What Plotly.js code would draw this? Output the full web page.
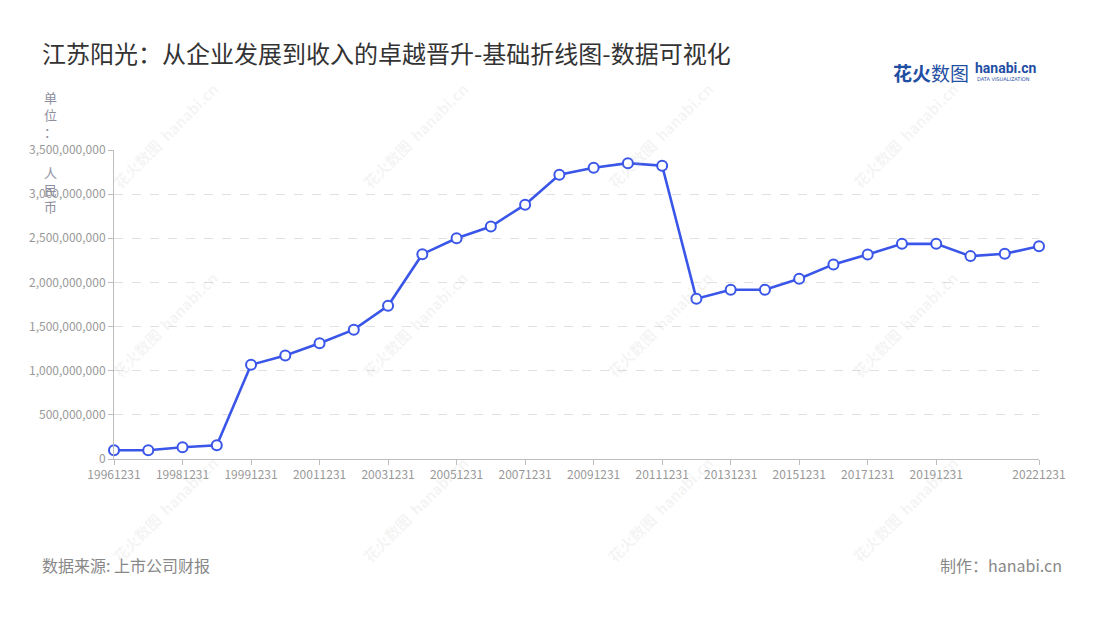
<!DOCTYPE html>
<html>
<head>
<meta charset="utf-8">
<script src="https://cdn.plot.ly/plotly-3.0.1.min.js"></script>
<style>
html,body{margin:0;padding:0;background:#fff;}
#chart{width:1100px;height:620px;}
</style>
</head>
<body>
<div id="chart"></div>
<script>
// Report dates (category axis)
const dates = [
  "19961231","19971231","19981231","19990630","19991231",
  "20001231","20011231","20021231","20031231","20041231",
  "20051231","20061231","20071231","20081231","20091231",
  "20101231","20111231","20121231","20131231","20141231",
  "20151231","20161231","20171231","20181231","20191231",
  "20201231","20211231","20221231"
];
// Revenue (RMB)
const revenue = [
  99000000, 99000000, 133000000, 156000000, 1067000000,
  1172000000, 1312000000, 1465000000, 1736000000, 2320000000,
  2501000000, 2633000000, 2881000000, 3220000000, 3299000000,
  3351000000, 3321000000, 1815000000, 1917000000, 1917000000,
  2041000000, 2204000000, 2317000000, 2437000000, 2437000000,
  2298000000, 2324000000, 2410000000
];
// Shown x tick labels
const shownTicks = [
  "19961231","19981231","19991231","20011231","20031231","20051231",
  "20071231","20091231","20111231","20131231","20151231","20171231",
  "20191231","20221231"
];
const yTicks = [0,500000000,1000000000,1500000000,2000000000,2500000000,3000000000,3500000000];

const FONT = '"Noto Sans CJK SC","Noto Sans",sans-serif';

const trace = {
  type: 'scatter',
  mode: 'lines+markers',
  x: dates,
  y: revenue,
  line: {color: '#3a56e8', width: 2.6},
  marker: {size: 10, color: '#ffffff', line: {color: '#3a56e8', width: 2}},
  cliponaxis: false,
  hoverinfo: 'x+y'
};

function px2paper(px, py) {
  const l = 114, r = 61, t = 150, b = 160.5;
  const w = 1100 - l - r, h = 620 - t - b;
  return {x: (px - l) / w, y: 1 - (py - t) / h};
}

// watermark annotations
const wmCols = [165, 415, 660, 905];
const wmRows = [135, 325, 510];
const wmAnn = [];
wmCols.forEach(cx => wmRows.forEach(cy => {
  const p = px2paper(cx, cy);
  wmAnn.push({
    xref: 'paper', yref: 'paper', x: p.x, y: p.y,
    xanchor: 'center', yanchor: 'middle',
    text: '<b>花火数图</b>  <b>hanabi.cn</b>',
    textangle: -45,
    showarrow: false,
    font: {family: FONT, size: 15, color: 'rgba(170,170,170,0.13)'}
  });
}));

const layout = {
  width: 1100,
  height: 620,
  paper_bgcolor: '#ffffff',
  plot_bgcolor: '#ffffff',
  margin: {l: 114, r: 61, t: 150, b: 160.5, pad: 0},
  showlegend: false,
  font: {family: FONT, color: '#999999', size: 12},
  title: {
    text: '江苏阳光：从企业发展到收入的卓越晋升-基础折线图-数据可视化',
    x: 42 / 1100, xanchor: 'left', xref: 'container',
    y: 1 - 55 / 620, yanchor: 'middle', yref: 'container',
    font: {family: FONT, size: 24, color: '#333333'}
  },
  xaxis: {
    type: 'category',
    range: [0, dates.length - 1],
    tickmode: 'array',
    tickvals: shownTicks,
    ticktext: shownTicks,
    ticks: 'outside',
    ticklen: 5,
    tickcolor: '#bdbdbd',
    showline: true,
    linecolor: '#bdbdbd',
    linewidth: 1,
    showgrid: false,
    zeroline: false,
    tickangle: 0,
    tickfont: {family: FONT, size: 12, color: '#999999'},
    fixedrange: true
  },
  yaxis: {
    range: [0, 3500000000],
    tickmode: 'array',
    tickvals: yTicks,
    ticktext: yTicks.map(v => v.toLocaleString('en-US')),
    ticks: 'outside',
    ticklen: 5,
    tickcolor: '#bdbdbd',
    showline: true,
    linecolor: '#bdbdbd',
    linewidth: 1,
    showgrid: true,
    gridcolor: '#e0e0e0',
    griddash: 'dash',
    gridwidth: 1,
    zeroline: false,
    tickfont: {family: FONT, size: 12, color: '#999999'},
    fixedrange: true
  },
  annotations: wmAnn.concat([
    {
      xref: 'paper', yref: 'paper', x: px2paper(50, 86).x, y: px2paper(50, 86).y,
      xanchor: 'center', yanchor: 'top',
      text: '单<br>位<br>：', showarrow: false, align: 'center',
      font: {family: FONT, size: 13, color: '#8e8e9e'}
    },
    {
      xref: 'paper', yref: 'paper', x: px2paper(50, 161).x, y: px2paper(50, 161).y,
      xanchor: 'center', yanchor: 'top',
      text: '人<br>民<br>币', showarrow: false, align: 'center',
      font: {family: FONT, size: 13, color: '#8e8e9e'}
    },
    {
      xref: 'paper', yref: 'paper', x: px2paper(40, 566).x, y: px2paper(40, 566).y,
      xanchor: 'left', yanchor: 'middle',
      text: '数据来源: 上市公司财报', showarrow: false,
      font: {family: FONT, size: 16, color: '#888888'}
    },
    {
      xref: 'paper', yref: 'paper', x: px2paper(1064, 566).x, y: px2paper(1064, 566).y,
      xanchor: 'right', yanchor: 'middle',
      text: '制作：hanabi.cn', showarrow: false,
      font: {family: FONT, size: 16, color: '#888888'}
    },
    {
      xref: 'paper', yref: 'paper', x: px2paper(891, 72).x, y: px2paper(891, 72).y,
      xanchor: 'left', yanchor: 'middle',
      text: '<b>花火</b>数图', showarrow: false,
      font: {family: FONT, size: 19, color: '#1f4fa3'}
    },
    {
      xref: 'paper', yref: 'paper', x: px2paper(973, 68).x, y: px2paper(973, 68).y,
      xanchor: 'left', yanchor: 'middle',
      text: '<b>hanabi.cn</b>', showarrow: false,
      font: {family: 'Roboto,sans-serif', size: 14, color: '#1f4fa3'}
    },
    {
      xref: 'paper', yref: 'paper', x: px2paper(975, 79).x, y: px2paper(975, 79).y,
      xanchor: 'left', yanchor: 'middle',
      text: 'DATA VISUALIZATION', showarrow: false,
      font: {family: '"DejaVu Sans",sans-serif', size: 5, color: '#1f4fa3'}
    }
  ])
};

Plotly.newPlot('chart', [trace], layout, {displayModeBar: false, responsive: false});
</script>
</body>
</html>
